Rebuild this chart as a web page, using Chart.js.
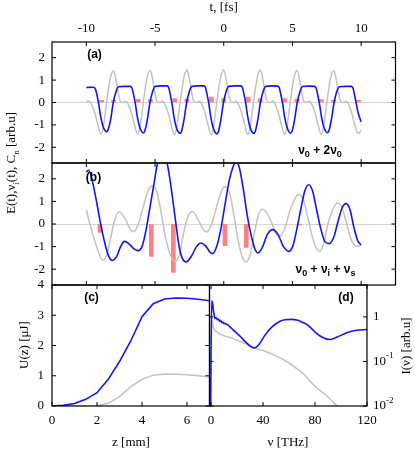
<!DOCTYPE html>
<html>
<head>
<meta charset="utf-8">
<script src="https://cdn.jsdelivr.net/npm/chart.js@4.4.1/dist/chart.umd.min.js"></script>
<style>
  html, body { margin: 0; padding: 0; background: #fff; }
  #wrap { position: relative; width: 415px; height: 452px; }
  #wrap canvas { position: absolute; left: 0; top: 0; }
</style>
</head>
<body>
<div id="wrap">
  <canvas id="pa" width="415" height="452"></canvas>
  <canvas id="pb" width="415" height="452"></canvas>
  <canvas id="pc" width="415" height="452"></canvas>
  <canvas id="pd" width="415" height="452"></canvas>
</div>
<script>
// ---- panel (a): nu0 + 2nu0 ----
const aBlueT = [-10.0, -9.48, -9.35, -9.25, -9.11, -8.96, -8.78, -8.63, -8.53, -8.41, -8.24, -8.04, -7.85, -7.66, -7.23,
  -6.81, -6.68, -6.58, -6.44, -6.29, -6.11, -5.96, -5.86, -5.74, -5.57, -5.37, -5.18, -4.99, -4.56,
  -4.14, -4.01, -3.91, -3.77, -3.62, -3.44, -3.29, -3.19, -3.07, -2.90, -2.70, -2.51, -2.32, -1.89,
  -1.46, -1.33, -1.23, -1.09, -0.94, -0.76, -0.61, -0.51, -0.39, -0.22, -0.02, 0.17, 0.36, 0.79,
  1.23, 1.36, 1.46, 1.60, 1.75, 1.93, 2.08, 2.18, 2.30, 2.47, 2.67, 2.86, 3.05, 3.48,
  3.91, 4.04, 4.14, 4.28, 4.43, 4.61, 4.76, 4.86, 4.98, 5.15, 5.35, 5.54, 5.73, 6.16,
  6.59, 6.72, 6.82, 6.96, 7.11, 7.29, 7.44, 7.54, 7.66, 7.83, 8.03, 8.22, 8.41, 8.84,
  9.27, 9.40, 9.50, 9.64, 9.80, 10.0];
const aBlueE = [0.67, 0.68, 0.61, 0.40, -0.04, -0.62, -1.08, -1.26, -1.31, -1.21, -0.79, 0.0, 0.47, 0.70, 0.72,
  0.72, 0.65, 0.40, -0.04, -0.64, -1.12, -1.31, -1.36, -1.26, -0.79, 0.0, 0.48, 0.72, 0.74,
  0.74, 0.67, 0.41, -0.04, -0.65, -1.14, -1.33, -1.38, -1.28, -0.80, 0.0, 0.48, 0.72, 0.74,
  0.74, 0.67, 0.41, -0.04, -0.66, -1.15, -1.35, -1.40, -1.30, -0.81, 0.0, 0.48, 0.72, 0.74,
  0.74, 0.67, 0.41, -0.04, -0.65, -1.14, -1.33, -1.38, -1.28, -0.80, 0.0, 0.48, 0.72, 0.74,
  0.73, 0.66, 0.40, -0.04, -0.64, -1.12, -1.32, -1.37, -1.27, -0.79, 0.0, 0.47, 0.71, 0.73,
  0.72, 0.65, 0.40, -0.04, -0.63, -1.11, -1.30, -1.35, -1.25, -0.78, 0.0, 0.47, 0.70, 0.72,
  0.72, 0.65, 0.40, -0.04, -0.50, -0.86];
const aGrayT = [-10.0, -9.79, -9.59, -9.34, -9.14,
  -8.94, -8.77, -8.57, -8.37, -8.19, -8.02, -7.85, -7.67, -7.52, -7.32, -7.12, -6.92, -6.67, -6.47,
  -6.27, -6.10, -5.90, -5.70, -5.52, -5.35, -5.18, -5.00, -4.85, -4.65, -4.45, -4.25, -4.00, -3.80,
  -3.59, -3.42, -3.22, -3.02, -2.84, -2.67, -2.50, -2.32, -2.17, -1.97, -1.77, -1.57, -1.32, -1.12,
  -0.91, -0.75, -0.55, -0.35, -0.17, 0.0, 0.17, 0.35, 0.50, 0.70, 0.90, 1.10, 1.35, 1.55,
  1.75, 1.92, 2.12, 2.32, 2.50, 2.67, 2.84, 3.02, 3.17, 3.37, 3.57, 3.77, 4.02, 4.22,
  4.42, 4.59, 4.79, 4.99, 5.17, 5.34, 5.51, 5.69, 5.84, 6.04, 6.24, 6.44, 6.69, 6.89,
  7.09, 7.26, 7.46, 7.66, 7.84, 8.01, 8.18, 8.36, 8.51, 8.71, 8.91, 9.11, 9.36, 9.56,
  9.79, 10.0];
const aGrayE = [0.05, 0.06, -0.12, -0.56, -1.05,
  -1.41, -1.1, -0.2, 0.69, 1.25, 1.42, 1.05, 0.4, 0.05, 0.0, 0.06, -0.12, -0.56, -1.05,
  -1.42, -1.1, -0.2, 0.69, 1.25, 1.44, 1.05, 0.4, 0.05, 0.0, 0.06, -0.12, -0.56, -1.05,
  -1.43, -1.1, -0.2, 0.69, 1.26, 1.45, 1.05, 0.4, 0.05, 0.0, 0.07, -0.12, -0.56, -1.06,
  -1.44, -1.1, -0.2, 0.69, 1.26, 1.45, 1.05, 0.4, 0.05, 0.0, 0.07, -0.12, -0.56, -1.06,
  -1.44, -1.1, -0.2, 0.69, 1.26, 1.45, 1.05, 0.4, 0.05, 0.0, 0.07, -0.12, -0.56, -1.05,
  -1.43, -1.1, -0.2, 0.69, 1.25, 1.44, 1.05, 0.4, 0.05, 0.0, 0.06, -0.12, -0.56, -1.05,
  -1.42, -1.1, -0.2, 0.69, 1.25, 1.43, 1.05, 0.4, 0.05, 0.0, 0.06, -0.12, -0.56, -1.05,
  -1.38, -1.25];
const aBarT = [-8.89, -8.02, -6.23, -5.34, -3.56, -2.68, -0.90, -0.01, 1.78, 2.65, 4.44, 5.33, 7.11, 7.99, 9.80];
const aBarC = [0.10, 0.10, 0.14, 0.13, 0.18, 0.15, 0.24, 0.18, 0.24, 0.16, 0.18, 0.15, 0.13, 0.10, 0.10];

// ---- panel (b): nu0 + nui + nus ----
const bBlueT = [-10.0, -9.83, -9.53, -9.24, -8.95, -8.66, -8.37, -8.12, -7.79, -7.50, -7.21, -6.92, -6.53, -6.23,
  -5.94, -5.65, -5.36, -5.07, -4.84, -4.47, -4.10, -3.81, -3.52, -3.23, -3.03, -2.74, -2.36, -1.97, -1.68,
  -1.29, -1.00, -0.80, -0.51, -0.22, 0.07, 0.36, 0.65, 0.90, 1.14, 1.43, 1.72, 2.01, 2.30, 2.50, 2.79,
  3.17, 3.56, 3.95, 4.34, 4.73, 5.02, 5.31, 5.60, 5.89, 6.18, 6.47, 6.76, 7.05, 7.35, 7.69,
  8.03, 8.32, 8.61, 8.90, 9.19, 9.48, 9.77, 10.0];
const bBlueE = [2.31, 2.38, 1.81, 0.93, -0.03, -0.84, -1.43, -1.61, -1.43, -0.99, -0.77, -0.87, -1.10, -1.18,
  -0.99, -0.25, 0.78, 1.81, 2.62, 3.1, 2.62, 1.52, 0.19, -1.06, -1.50, -1.68, -1.43, -0.99, -0.84,
  -0.99, -1.25, -1.31, -0.99, -0.25, 0.78, 1.81, 2.48, 2.75, 2.48, 1.52, 0.34, -0.54, -1.16, -1.28, -1.06,
  -0.47, -0.25, -0.47, -0.99, -1.21, -0.99, -0.25, 0.63, 1.45, 1.74, 1.45, 0.63, -0.18, -0.77, -0.87,
  -0.54, 0.12, 0.71, 0.90, 0.63, -0.18, -0.77, -0.92];
const bGrayT = [-10.0, -9.73, -9.34, -8.95, -8.80, -8.47, -8.18, -7.89, -7.60, -7.21, -6.82, -6.58, -6.23,
  -5.85, -5.46, -5.23, -4.88, -4.59, -4.30, -4.00, -3.71, -3.52, -3.23, -3.03, -2.83, -2.55, -2.26,
  -1.87, -1.48, -1.25, -0.90, -0.51, -0.12, 0.07, 0.46, 0.75, 1.04, 1.33, 1.62, 1.92, 2.21, 2.50,
  2.81, 3.17, 3.52, 3.74, 4.05, 4.44, 4.83, 5.21, 5.44, 5.79, 6.18, 6.47, 6.76, 6.96, 7.25, 7.54,
  7.93, 8.28, 8.61, 8.90, 9.19, 9.48, 9.77, 10.0];
const bGrayE = [0.63, -0.03, -0.84, -1.50, -1.61, -1.28, -0.47, 0.27, 0.53, 0.27, -0.22, -0.34, -0.03,
  0.78, 1.52, 1.68, 1.45, 0.63, -0.40, -1.16, -1.58, -1.67, -1.35, -0.75, -0.15, 0.41, 0.55,
  0.19, -0.25, -0.35, -0.03, 0.78, 1.52, 1.66, 1.30, 0.34, -0.69, -1.43, -1.68, -1.36, -0.47, 0.34,
  0.65, 0.45, 0.0, -0.35, -0.55, -0.20, 0.63, 1.15, 1.31, 1.08, 0.12, -0.62, -1.10, -1.21, -0.92, -0.10,
  0.63, 0.93, 0.71, 0.12, -0.54, -0.92, -0.99, -0.92];
const bBarT = [-9.01, -5.27, -3.67, 0.09, 1.64, 5.50, 6.96];
const bBarC = [-0.37, -1.44, -2.14, -0.96, -1.04, -0.04, -0.03];

// ---- panel (c): pulse energy along z ----
const cZ = [0, 0.5, 1, 1.5, 2, 2.5, 3, 3.5, 4, 4.5, 5, 5.5, 6, 6.5, 7];
const cBlue = [0, 0.02, 0.08, 0.22, 0.44, 0.88, 1.47, 2.15, 2.95, 3.38, 3.54, 3.57, 3.56, 3.53, 3.48];
const cGray = [0, 0, 0, 0, 0.01, 0.09, 0.31, 0.64, 0.88, 1.02, 1.06, 1.05, 1.03, 1.0, 0.96];

// ---- panel (d): spectrum ----
const dBlueF = [-0.5, 0.5, 1.2, 1.8, 2.5, 3.1, 4.0, 4.8, 5.6, 6.5, 7.3, 8.2, 9.0, 10.0, 11.0, 12.1, 13.0, 14.0,
  15.9, 18.0, 21.0, 23.5, 26.2, 30.0, 33.3, 36.4, 41.5, 46.7, 53.1, 57.0, 62.1, 66.0, 69.8, 73.6, 77.0,
  81.3, 86.4, 91.0, 96.7, 104.4, 112.0, 120.0];
const dBlue = [0.003, 2.3, 2.0, 1.4, 1.08, 0.92, 0.95, 0.86, 0.9, 0.8, 0.84, 0.75, 0.77, 0.7, 0.72, 0.67, 0.66, 0.62,
  0.55, 0.48, 0.40, 0.34, 0.28, 0.22, 0.20, 0.23, 0.39, 0.59, 0.80, 0.86, 0.88, 0.85, 0.77, 0.68, 0.56,
  0.42, 0.34, 0.31, 0.35, 0.44, 0.50, 0.52];
const dGrayF = [-0.5, 0.6, 1.5, 2.5, 3.5, 4.4, 5.5, 6.9, 8.0, 9.5, 10.8, 12.5, 14.0, 15.9, 18.5, 21.0, 24.8, 28.7,
  33.8, 41.5, 49.2, 56.9, 64.6, 71.0, 76.2, 81.0, 85.0, 89.0, 93.0, 97.0, 101.0];
const dGray = [0.003, 1.0, 0.62, 0.52, 0.48, 0.46, 0.44, 0.40, 0.41, 0.38, 0.37, 0.36, 0.35, 0.34, 0.31, 0.29, 0.26, 0.24,
  0.20, 0.17, 0.137, 0.105, 0.074, 0.053, 0.036, 0.026, 0.021, 0.017, 0.013, 0.0098, 0.0075];

// tick values
const tTicks = [-10, -5, 0, 5, 10];
const eTicks = [-2, -1, 0, 1, 2];
const zTicks = [0, 2, 4, 6];
const uTicks = [0, 1, 2, 3, 4];
const fTicks = [0, 40, 80, 120];
const iTicks = [0.01, 0.1, 1];

const SERIF = "'Liberation Serif', 'DejaVu Serif', serif";
const SANS = "'Liberation Sans', 'DejaVu Sans', sans-serif";
const BLUE = '#1414f5';
const GRAY = '#c2c2c2';
const RED = 'rgba(255, 85, 85, 0.75)';

Chart.defaults.font.family = SERIF;
Chart.defaults.font.size = 13;
Chart.defaults.color = '#000';
Chart.defaults.animation = false;
Chart.defaults.plugins.legend.display = false;
Chart.defaults.plugins.tooltip.enabled = false;

const pairs = (xs, ys) => xs.map((x, i) => ({x, y: ys[i]}));
const fixed = values => scale => { scale.ticks = values.map(value => ({value})); };

function lineSet(xs, ys, color, width, smooth) {
  return {
    type: 'line', data: pairs(xs, ys), borderColor: color, borderWidth: width,
    pointRadius: 0, fill: false, cubicInterpolationMode: smooth ? 'monotone' : 'default', tension: 0
  };
}
function barSet(xs, ys) {
  return {type: 'bar', data: pairs(xs, ys), backgroundColor: RED, barThickness: 4};
}

// text with _x subscripts and ^{..} superscripts
function drawRich(ctx, l) {
  const size = l.size || 13, family = l.family || SERIF, weight = l.weight || 'normal';
  const parts = l.text.split(/(_\w|\^\{[^}]*\})/).filter(Boolean).map(s =>
    s[0] === '_' ? {t: s.slice(1), dy: 0.32} :
    s[0] === '^' ? {t: s.slice(2, -1), dy: -0.42} : {t: s, dy: 0});
  const fontOf = p => `${weight} ${p.dy ? Math.round(size * 0.72) : size}px ${family}`;
  let total = 0;
  parts.forEach(p => { ctx.font = fontOf(p); p.w = ctx.measureText(p.t).width; total += p.w; });
  ctx.save();
  ctx.translate(l.x, l.y);
  ctx.rotate(l.angle || 0);
  ctx.fillStyle = '#000';
  ctx.textBaseline = 'middle';
  ctx.textAlign = 'left';
  let cx = l.align === 'left' ? 0 : -total / 2;
  parts.forEach(p => { ctx.font = fontOf(p); ctx.fillText(p.t, cx, p.dy * size); cx += p.w; });
  ctx.restore();
}

// frame, inward ticks and free text for one panel
function frame(cfg) {
  return {
    id: 'frame',
    afterDatasetsDraw(chart) {
      const {ctx, chartArea: a} = chart;
      ctx.save();
      ctx.strokeStyle = '#000';
      ctx.lineWidth = 1;
      ctx.beginPath();
      (cfg.ticks || []).forEach(([id, values]) => {
        const s = chart.scales[id];
        values.forEach(v => {
          const p = s.getPixelForValue(v);
          if (s.isHorizontal()) {
            ctx.moveTo(p, a.top); ctx.lineTo(p, a.top + 4);
            ctx.moveTo(p, a.bottom); ctx.lineTo(p, a.bottom - 4);
          } else {
            ctx.moveTo(a.left, p); ctx.lineTo(a.left + 4, p);
            ctx.moveTo(a.right, p); ctx.lineTo(a.right - 4, p);
          }
        });
      });
      ctx.stroke();
      ctx.lineWidth = 1.2;
      ctx.strokeRect(a.left, a.top, a.right - a.left, a.bottom - a.top);
      if (cfg.logLabels) {
        const s = chart.scales[cfg.logLabels.id];
        cfg.logLabels.values.forEach(v => {
          const e = Math.round(Math.log10(v));
          drawRich(ctx, {text: e === 0 ? '1' : '10^{' + e + '}', x: cfg.logLabels.x, y: s.getPixelForValue(v), align: 'left'});
        });
      }
      (cfg.labels || []).forEach(l => drawRich(ctx, l));
      ctx.restore();
    }
  };
}

const zeroGrid = {
  color: c => (c.tick && c.tick.value === 0 ? '#d4d4d4' : 'rgba(0,0,0,0)'),
  lineWidth: 1, drawTicks: false
};
const off = {display: false};
const noGrid = {display: false, drawTicks: false};
const UP = -Math.PI / 2;

// (a)
new Chart(document.getElementById('pa'), {
  type: 'line',
  data: {datasets: [lineSet(aBlueT, aBlueE, BLUE, 1.6, true), lineSet(aGrayT, aGrayE, GRAY, 1.5, true), barSet(aBarT, aBarC)]},
  options: {
    responsive: false,
    layout: {padding: {left: 0, top: 0, right: 19.5, bottom: 289}},
    scales: {
      x: {type: 'linear', position: 'top', min: -10, max: 10, afterBuildTicks: fixed(tTicks),
          afterFit: s => { s.height = 42; }, grid: noGrid, border: off,
          ticks: {padding: 6, maxRotation: 0, autoSkip: false}},
      y: {type: 'linear', min: -2.7, max: 2.7, afterBuildTicks: fixed(eTicks),
          afterFit: s => { s.width = 52; }, grid: zeroGrid, border: off,
          ticks: {padding: 7, autoSkip: false}}
    }
  },
  plugins: [frame({
    ticks: [['x', tTicks], ['y', eTicks]],
    labels: [
      {text: 't, [fs]', x: 223.7, y: 8},
      {text: '(a)', x: 94.5, y: 55, family: SANS, weight: 'bold', size: 12},
      {text: 'ν_0 + 2ν_0', x: 320, y: 151, family: SANS, weight: 'bold', size: 12},
      {text: 'E(t),ν_i(t), C_n [arb.u]', x: 12, y: 163, angle: UP}
    ]
  })]
});

// (b)
new Chart(document.getElementById('pb'), {
  type: 'line',
  data: {datasets: [lineSet(bBlueT, bBlueE, BLUE, 1.6, true), lineSet(bGrayT, bGrayE, GRAY, 1.5, true), barSet(bBarT, bBarC)]},
  options: {
    responsive: false,
    layout: {padding: {left: 0, top: 163, right: 19.5, bottom: 167}},
    scales: {
      x: {type: 'linear', display: false, min: -10, max: 10},
      y: {type: 'linear', min: -2.7, max: 2.7, afterBuildTicks: fixed(eTicks),
          afterFit: s => { s.width = 52; }, grid: zeroGrid, border: off,
          ticks: {padding: 7, autoSkip: false}}
    }
  },
  plugins: [frame({
    ticks: [['x', tTicks], ['y', eTicks]],
    labels: [
      {text: '(b)', x: 93.5, y: 177.5, family: SANS, weight: 'bold', size: 12},
      {text: 'ν_0 + ν_i + ν_s', x: 325.5, y: 270, family: SANS, weight: 'bold', size: 12}
    ]
  })]
});

// (c)
new Chart(document.getElementById('pc'), {
  type: 'line',
  data: {datasets: [lineSet(cZ, cBlue, BLUE, 1.6, false), lineSet(cZ, cGray, GRAY, 1.5, false)]},
  options: {
    responsive: false,
    layout: {padding: {left: 0, top: 285, right: 205.5, bottom: 0}},
    scales: {
      x: {type: 'linear', min: 0, max: 7, afterBuildTicks: fixed(zTicks),
          afterFit: s => { s.height = 46; }, grid: noGrid, border: off,
          ticks: {padding: 7, maxRotation: 0, autoSkip: false}},
      y: {type: 'linear', min: 0, max: 4, afterBuildTicks: fixed(uTicks),
          afterFit: s => { s.width = 52; }, grid: noGrid, border: off,
          ticks: {padding: 8, autoSkip: false}}
    }
  },
  plugins: [frame({
    ticks: [['x', zTicks], ['y', uTicks]],
    labels: [
      {text: '(c)', x: 91.5, y: 297.5, family: SANS, weight: 'bold', size: 12},
      {text: 'U(z) [μJ]', x: 25, y: 345, angle: UP},
      {text: 'z [mm]', x: 131, y: 443}
    ]
  })]
});

// (d)
new Chart(document.getElementById('pd'), {
  type: 'line',
  data: {datasets: [lineSet(dBlueF, dBlue, BLUE, 1.6, true), lineSet(dGrayF, dGray, GRAY, 1.5, true)]},
  options: {
    responsive: false,
    layout: {padding: {left: 209.5, top: 285, right: 0, bottom: 0}},
    scales: {
      x: {type: 'linear', min: -1.2, max: 120, afterBuildTicks: fixed(fTicks),
          afterFit: s => { s.height = 46; }, grid: noGrid, border: off,
          ticks: {padding: 7, maxRotation: 0, autoSkip: false}},
      y: {type: 'logarithmic', position: 'right', min: 0.01, max: 5.2, afterBuildTicks: fixed(iTicks),
          afterFit: s => { s.width = 48; }, grid: noGrid, border: off, ticks: {display: false}}
    }
  },
  plugins: [frame({
    ticks: [['x', fTicks], ['y', iTicks]],
    logLabels: {id: 'y', values: iTicks, x: 373},
    labels: [
      {text: '(d)', x: 346, y: 297.5, family: SANS, weight: 'bold', size: 12},
      {text: 'I(ν) [arb.u]', x: 407, y: 346, angle: UP},
      {text: 'ν [THz]', x: 288, y: 443}
    ]
  })]
});
</script>
</body>
</html>
